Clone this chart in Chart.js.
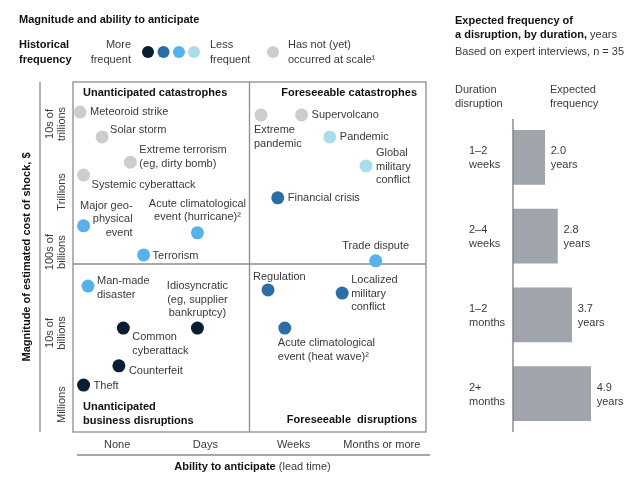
<!DOCTYPE html>
<html>
<head>
<meta charset="utf-8">
<script src="https://cdn.jsdelivr.net/npm/chart.js@4/dist/chart.umd.min.js"></script>
<style>
  html, body { margin: 0; padding: 0; background: #ffffff; }
  #wrap { position: relative; width: 640px; height: 480px; overflow: hidden; background: #fff; }
  #scatter { position: absolute; left: 0; top: 0; }
  #bars { position: absolute; left: 440px; top: 0; }
</style>
</head>
<body>
<div id="wrap">
  <canvas id="scatter" width="640" height="480"></canvas>
  <canvas id="bars" width="200" height="480"></canvas>
</div>
<script>
// ---------------- DATA ----------------
const riskNames = [
  'Meteoroid strike', 'Solar storm', 'Extreme terrorism\n(eg, dirty bomb)', 'Systemic cyberattack',
  'Major geo-\nphysical\nevent', 'Acute climatological\nevent (hurricane)\u00B2', 'Terrorism',
  'Extreme\npandemic', 'Supervolcano', 'Pandemic', 'Global\nmilitary\nconflict', 'Financial crisis', 'Trade dispute',
  'Man-made\ndisaster', 'Idiosyncratic\n(eg, supplier\nbankruptcy)', 'Common\ncyberattack', 'Counterfeit', 'Theft',
  'Regulation', 'Localized\nmilitary\nconflict', 'Acute climatological\nevent (heat wave)\u00B2'
];
// ability to anticipate (lead time), 0 = none ... 4 = months or more
const leadTime = [
  0.08, 0.33, 0.65, 0.12,
  0.12, 1.41, 0.80,
  2.13, 2.59, 2.91, 3.32, 2.32, 3.43,
  0.17, 1.41, 0.57, 0.52, 0.12,
  2.21, 3.05, 2.40
];
// magnitude of estimated cost of shock (relative scale)
const magnitude = [
  9.14, 8.43, 7.71, 7.34,
  5.89, 5.69, 5.06,
  9.06, 9.06, 8.43, 7.60, 6.69, 4.89,
  4.17, 2.97, 2.97, 1.89, 1.34,
  4.06, 3.97, 2.97
];
// historical frequency: 0 = most frequent ... 3 = least frequent, 4 = has not (yet) occurred at scale
const frequency = [
  4, 4, 4, 4,
  2, 2, 2,
  4, 4, 3, 3, 1, 2,
  2, 0, 0, 0, 0,
  1, 1, 1
];
const xTickLabels = ['None', 'Days', 'Weeks', 'Months or more'];
const xTickValues = [0.5, 1.5, 2.5, 3.5];
const yTickLabels = ['Millions', '10s of\nbillions', '100s of\nbillions', 'Trillions', '10s of\ntrillions'];
const yTickValues = [0.78, 2.83, 5.14, 6.86, 8.8];

const durations = ['1\u20132\nweeks', '2\u20134\nweeks', '1\u20132\nmonths', '2+\nmonths'];
const expectedYears = [2.0, 2.8, 3.7, 4.9];

// ---------------- STYLE ----------------
const FONT = '"Liberation Sans", Arial, Helvetica, sans-serif';
const freqColors = ['#0b1d33', '#2c6ca7', '#58b1ea', '#abdcea', '#cdcdcd'];
const TEXT = '#3a3a3a';
const BOLD = '#111111';
const LINE = '#8c8c8c';

// label placement relative to each point: dx, dy of first line, alignment
const labelLayout = [
  {dx: 10, dy: 0, a: 'left'}, {dx: 8, dy: -7, a: 'left'}, {dx: 9, dy: -12, a: 'left'}, {dx: 8, dy: 10, a: 'left'},
  {dx: 49, dy: -20, a: 'right'}, {dx: 0, dy: -29, a: 'center'}, {dx: 9, dy: 1, a: 'left'},
  {dx: -7, dy: 15, a: 'left'}, {dx: 10, dy: 0, a: 'left'}, {dx: 10, dy: 0, a: 'left'}, {dx: 10, dy: -13, a: 'left'}, {dx: 10, dy: 0, a: 'left'}, {dx: 0, dy: -15, a: 'center'},
  {dx: 9, dy: -5, a: 'left'}, {dx: 0, dy: -42, a: 'center'}, {dx: 9, dy: 9, a: 'left'}, {dx: 10, dy: 5, a: 'left'}, {dx: 10, dy: 1, a: 'left'},
  {dx: -15, dy: -13, a: 'left'}, {dx: 9, dy: -13, a: 'left'}, {dx: -7, dy: 15, a: 'left'}
];
const LH = 13.6;

function drawLines(ctx, text, x, y, lh) {
  text.split('\n').forEach((t, i) => ctx.fillText(t, x, y + i * lh));
}
function drawMixed(ctx, parts, x, y) {
  // parts: [[text, bold], ...] left aligned
  let cx = x;
  parts.forEach(([t, b]) => {
    ctx.font = (b ? 'bold ' : '') + '11px ' + FONT;
    ctx.fillStyle = b ? BOLD : TEXT;
    ctx.fillText(t, cx, y);
    cx += ctx.measureText(t).width;
  });
  return cx - x;
}

// ---------------- SCATTER ----------------
const scatterPlugin = {
  id: 'scatterDecor',
  beforeDatasetsDraw(chart) {
    const ctx = chart.ctx, ca = chart.chartArea;
    const xs = chart.scales.x, ys = chart.scales.y;
    ctx.save();
    ctx.strokeStyle = LINE;
    ctx.lineWidth = 1.3;
    ctx.strokeRect(ca.left, ca.top, ca.right - ca.left, ca.bottom - ca.top);
    const mx = xs.getPixelForValue(2), my = ys.getPixelForValue(4.8);
    ctx.beginPath();
    ctx.moveTo(mx, ca.top); ctx.lineTo(mx, ca.bottom);
    ctx.moveTo(ca.left, my); ctx.lineTo(ca.right, my);
    // outer axis lines
    ctx.moveTo(ca.left - 33, ca.top); ctx.lineTo(ca.left - 33, ca.bottom);
    ctx.moveTo(ca.left + 4, ca.bottom + 23); ctx.lineTo(ca.right + 4, ca.bottom + 23);
    ctx.stroke();
    ctx.restore();
  },
  afterDatasetsDraw(chart) {
    const ctx = chart.ctx, ca = chart.chartArea;
    const xs = chart.scales.x, ys = chart.scales.y;
    const meta = chart.getDatasetMeta(0);
    ctx.save();
    ctx.textBaseline = 'middle';
    // point labels
    ctx.font = '11px ' + FONT;
    ctx.fillStyle = TEXT;
    meta.data.forEach((pt, i) => {
      const L = labelLayout[i];
      ctx.textAlign = L.a;
      drawLines(ctx, riskNames[i], pt.x + L.dx, pt.y + L.dy, LH);
    });
    // quadrant titles
    ctx.font = 'bold 11px ' + FONT;
    ctx.fillStyle = BOLD;
    ctx.textAlign = 'left';
    ctx.fillText('Unanticipated catastrophes', ca.left + 10, ca.top + 11);
    drawLines(ctx, 'Unanticipated\nbusiness disruptions', ca.left + 10, ca.bottom - 25, LH);
    ctx.textAlign = 'right';
    ctx.fillText('Foreseeable catastrophes', ca.right - 9, ca.top + 11);
    ctx.fillText('Foreseeable  disruptions', ca.right - 9, ca.bottom - 12);
    // x tick labels
    ctx.font = '11px ' + FONT;
    ctx.fillStyle = TEXT;
    ctx.textAlign = 'center';
    xTickLabels.forEach((t, i) => ctx.fillText(t, xs.getPixelForValue(xTickValues[i]), ca.bottom + 13));
    // x axis title
    ctx.textAlign = 'left';
    const w1 = (() => { ctx.font = 'bold 11px ' + FONT; return ctx.measureText('Ability to anticipate').width; })();
    const w2 = (() => { ctx.font = '11px ' + FONT; return ctx.measureText(' (lead time)').width; })();
    drawMixed(ctx, [['Ability to anticipate', true], [' (lead time)', false]], (ca.left + ca.right) / 2 - (w1 + w2) / 2 + 3, ca.bottom + 35);
    // y tick labels (rotated)
    ctx.font = '11px ' + FONT;
    ctx.fillStyle = TEXT;
    ctx.textAlign = 'center';
    yTickLabels.forEach((t, i) => {
      const y = ys.getPixelForValue(yTickValues[i]);
      const lines = t.split('\n');
      ctx.save();
      ctx.translate(ca.left - 11, y);
      ctx.rotate(-Math.PI / 2);
      lines.forEach((l, k) => ctx.fillText(l, 0, (k - (lines.length - 1)) * 12.5));
      ctx.restore();
    });
    // y axis title
    ctx.save();
    ctx.font = 'bold 11px ' + FONT;
    ctx.fillStyle = BOLD;
    ctx.translate(ca.left - 46, (ca.top + ca.bottom) / 2);
    ctx.rotate(-Math.PI / 2);
    ctx.fillText('Magnitude of estimated cost of shock, $', 0, 0);
    ctx.restore();
    // top title and legend
    ctx.textAlign = 'left';
    ctx.font = 'bold 11px ' + FONT;
    ctx.fillStyle = BOLD;
    ctx.fillText('Magnitude and ability to anticipate', 19, 20);
    drawLines(ctx, 'Historical\nfrequency', 19, 45, 15);
    ctx.font = '11px ' + FONT;
    ctx.fillStyle = TEXT;
    ctx.textAlign = 'right';
    drawLines(ctx, 'More\nfrequent', 131, 45, 15);
    ctx.textAlign = 'left';
    drawLines(ctx, 'Less\nfrequent', 210, 45, 15);
    drawLines(ctx, 'Has not (yet)\noccurred at scale\u00B9', 288, 45, 15);
    const legX = [148, 163.5, 179, 194, 273];
    legX.forEach((x, i) => {
      ctx.beginPath();
      ctx.fillStyle = freqColors[i];
      ctx.arc(x, 52, 6, 0, Math.PI * 2);
      ctx.fill();
    });
    ctx.restore();
  }
};

new Chart(document.getElementById('scatter'), {
  type: 'scatter',
  data: {
    datasets: [{
      data: leadTime.map((x, i) => ({x: x, y: magnitude[i]})),
      pointRadius: 6.5,
      pointHoverRadius: 6.5,
      pointBorderWidth: 0,
      pointBackgroundColor: frequency.map(f => freqColors[f])
    }]
  },
  options: {
    responsive: false,
    animation: false,
    events: [],
    layout: {padding: {left: 73, right: 214, top: 82, bottom: 48}},
    scales: {
      x: {type: 'linear', min: 0, max: 4, display: false},
      y: {type: 'linear', min: 0, max: 10, display: false}
    },
    plugins: {legend: {display: false}, tooltip: {enabled: false}}
  },
  plugins: [scatterPlugin]
});

// ---------------- BARS ----------------
const barPlugin = {
  id: 'barDecor',
  afterDatasetsDraw(chart) {
    const ctx = chart.ctx, ca = chart.chartArea;
    const meta = chart.getDatasetMeta(0);
    ctx.save();
    ctx.strokeStyle = '#7a7a7a';
    ctx.lineWidth = 1.3;
    ctx.beginPath();
    ctx.moveTo(ca.left, ca.top + 1); ctx.lineTo(ca.left, ca.bottom - 1);
    ctx.stroke();
    ctx.textBaseline = 'middle';
    ctx.textAlign = 'left';
    // header
    drawMixed(ctx, [['Expected frequency of', true]], 15, 21);
    drawMixed(ctx, [['a disruption, by duration,', true], [' years', false]], 15, 35);
    ctx.font = '11px ' + FONT;
    ctx.fillStyle = TEXT;
    ctx.fillText('Based on expert interviews, n = 35', 15, 52);
    drawLines(ctx, 'Duration\ndisruption', 15, 90, 14);
    drawLines(ctx, 'Expected\nfrequency', 110, 90, 14);
    meta.data.forEach((bar, i) => {
      drawLines(ctx, durations[i], 29, bar.y - 6, 14);
      drawLines(ctx, expectedYears[i].toFixed(1) + '\nyears', bar.x + 6, bar.y - 6, 14);
    });
    ctx.restore();
  }
};

new Chart(document.getElementById('bars'), {
  type: 'bar',
  data: {
    labels: durations,
    datasets: [{data: expectedYears, backgroundColor: '#9fa5ab', barThickness: 54, borderWidth: 0}]
  },
  options: {
    indexAxis: 'y',
    responsive: false,
    animation: false,
    events: [],
    layout: {padding: {left: 73, right: 16, top: 118, bottom: 47}},
    scales: {
      x: {min: 0, max: 7, display: false},
      y: {display: false}
    },
    plugins: {legend: {display: false}, tooltip: {enabled: false}}
  },
  plugins: [barPlugin]
});
</script>
</body>
</html>
